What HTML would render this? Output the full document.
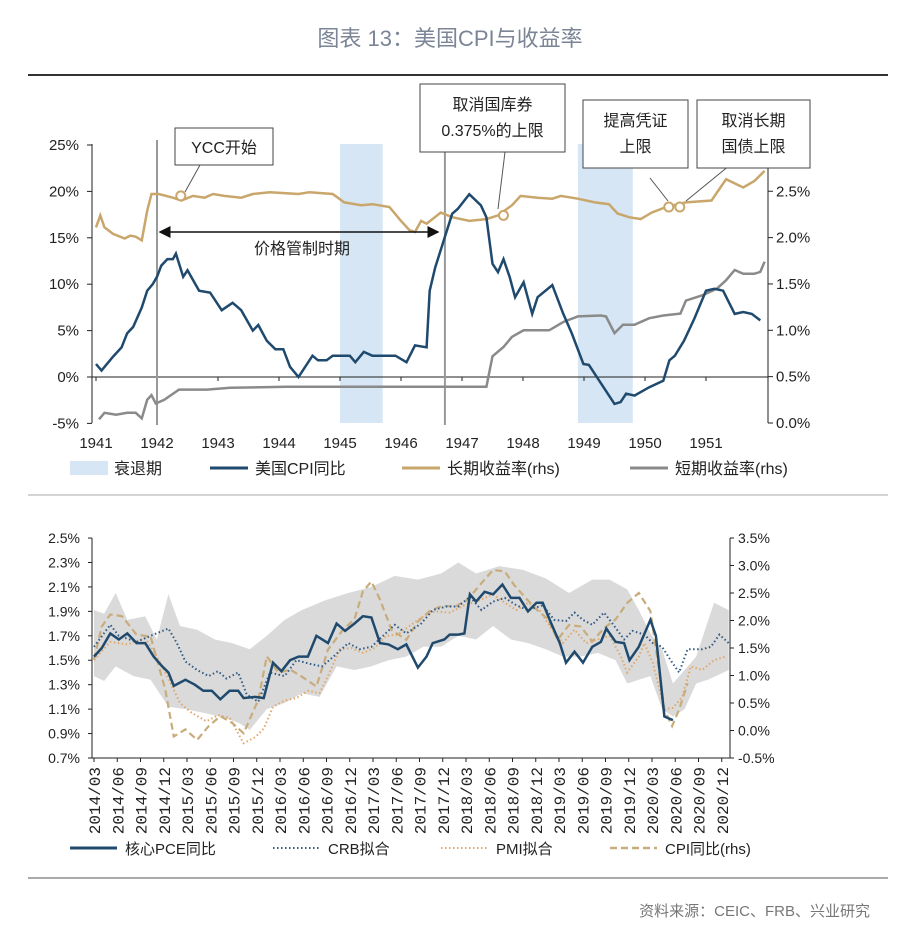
<!DOCTYPE html>
<html><head><meta charset="utf-8">
<style>
body{margin:0;background:#fff;}
svg{display:block;font-family:"Liberation Sans","Noto Sans CJK SC",sans-serif;}
</style></head>
<body>
<svg id="c" width="900" height="938" viewBox="0 0 900 938" xmlns="http://www.w3.org/2000/svg">
<defs><marker id="ah" markerWidth="8" markerHeight="8" refX="7" refY="4" orient="auto-start-reverse"><path d="M0,0 L8,4 L0,8 z" fill="#111"/></marker></defs>
<text x="450" y="46" text-anchor="middle" font-size="22" fill="#7b8595">图表 13：美国CPI与收益率</text>
<line x1="28" y1="75" x2="888" y2="75" stroke="#333" stroke-width="2"/>
<line x1="28" y1="495" x2="888" y2="495" stroke="#aaa" stroke-width="1"/>
<line x1="28" y1="878" x2="888" y2="878" stroke="#555" stroke-width="1"/>
<text x="870" y="916" text-anchor="end" font-size="15" fill="#777">资料来源：CEIC、FRB、兴业研究</text>
<g id="topChart"></g>
<g id="botChart"></g>
</svg>
<script>
// ---------- TOP CHART DATA ----------
const recessions = [[1945.0, 1945.7], [1948.9, 1949.8]];
const yearTicks = [1941,1942,1943,1944,1945,1946,1947,1948,1949,1950,1951];
const leftTicksTop = [25,20,15,10,5,0,-5];
const rightTicksTop = [3.0,2.5,2.0,1.5,1.0,0.5,0.0];
const cpiYears = [1941.00,1941.09,1941.28,1941.42,1941.51,1941.61,1941.75,1941.84,1941.93,1942.00,1942.07,1942.17,1942.26,1942.31,1942.43,1942.50,1942.69,1942.87,1943.06,1943.24,1943.38,1943.57,1943.66,1943.80,1943.94,1944.07,1944.18,1944.32,1944.55,1944.64,1944.78,1944.88,1945.16,1945.25,1945.39,1945.53,1945.91,1946.09,1946.23,1946.42,1946.47,1946.56,1946.70,1946.84,1946.93,1947.12,1947.31,1947.40,1947.50,1947.59,1947.68,1947.78,1947.87,1948.01,1948.15,1948.24,1948.48,1948.66,1948.80,1948.99,1949.08,1949.32,1949.50,1949.60,1949.69,1949.83,1950.07,1950.30,1950.40,1950.49,1950.64,1950.81,1951.00,1951.14,1951.28,1951.47,1951.61,1951.75,1951.89];
const cpiValues = [1.4,0.7,2.2,3.2,4.7,5.4,7.5,9.3,10,10.8,12,12.7,12.7,13.3,10.8,11.5,9.3,9.1,7.2,8,7.2,5,5.6,3.9,3,3,1.1,0,2.3,1.8,1.8,2.3,2.3,1.6,2.7,2.3,2.3,1.6,3.4,3.2,9.3,11.8,14.7,17.6,18.1,19.7,18.5,17.2,12.2,11.3,12.7,10.8,8.6,10.2,6.8,8.6,9.9,6.8,4.7,1.4,1.3,-1.1,-2.9,-2.7,-1.8,-2,-1.1,-0.4,1.8,2.3,3.9,6.3,9.3,9.5,9.3,6.8,7,6.8,6.1];
const longYears = [1941.00,1941.07,1941.14,1941.28,1941.47,1941.56,1941.65,1941.75,1941.84,1941.91,1942.03,1942.26,1942.40,1942.59,1942.78,1942.92,1943.10,1943.38,1943.57,1943.85,1944.32,1944.50,1944.88,1945.07,1945.35,1945.53,1945.81,1946.00,1946.14,1946.23,1946.33,1946.42,1946.65,1946.84,1947.12,1947.40,1947.59,1947.82,1947.96,1948.24,1948.48,1948.62,1948.90,1949.18,1949.41,1949.55,1949.74,1949.93,1950.11,1950.35,1950.67,1951.09,1951.33,1951.61,1951.79,1951.96];
const longValues = [2.11,2.24,2.11,2.04,1.99,2.02,2.01,1.97,2.29,2.47,2.47,2.43,2.40,2.45,2.43,2.47,2.45,2.43,2.47,2.49,2.47,2.49,2.47,2.38,2.35,2.36,2.33,2.18,2.08,2.06,2.18,2.15,2.27,2.22,2.18,2.20,2.24,2.35,2.45,2.43,2.42,2.45,2.42,2.38,2.36,2.26,2.22,2.20,2.27,2.33,2.38,2.40,2.63,2.54,2.61,2.72];
const shortYears = [1941.05,1941.14,1941.33,1941.51,1941.65,1941.75,1941.84,1941.91,1941.98,1942.12,1942.36,1942.82,1943.20,1944.13,1945.07,1947.40,1947.50,1947.68,1947.82,1948.01,1948.43,1948.66,1948.90,1949.27,1949.36,1949.50,1949.64,1949.83,1950.07,1950.30,1950.58,1950.67,1950.95,1951.18,1951.33,1951.47,1951.61,1951.79,1951.89,1951.96];
const shortValues = [0.04,0.11,0.09,0.11,0.11,0.05,0.25,0.30,0.21,0.25,0.36,0.36,0.38,0.39,0.39,0.39,0.72,0.82,0.93,1.00,1.00,1.09,1.15,1.16,1.15,0.97,1.06,1.06,1.13,1.16,1.18,1.32,1.38,1.45,1.54,1.65,1.61,1.61,1.63,1.74];

// ---------- BOTTOM CHART DATA ----------
const monthLabels = ["2014/03","2014/06","2014/09","2014/12","2015/03","2015/06","2015/09","2015/12","2016/03","2016/06","2016/09","2016/12","2017/03","2017/06","2017/09","2017/12","2018/03","2018/06","2018/09","2018/12","2019/03","2019/06","2019/09","2019/12","2020/03","2020/06","2020/09","2020/12"];
const leftTicksBot = [2.5,2.3,2.1,1.9,1.7,1.5,1.3,1.1,0.9,0.7];
const rightTicksBot = [3.5,3.0,2.5,2.0,1.5,1.0,0.5,0.0,-0.5];
const pceMonths = [0,1,2.1,3.2,4.3,5.5,6.6,7.7,8.8,9.6,10.3,11.8,13,14.1,15.2,16.3,17.5,18.6,19.3,20.8,21.9,23.1,24.2,25.3,26.4,27.6,28.7,30.2,31.3,32.4,33.6,34.7,35.8,36.9,38.0,39.2,40.3,41.8,42.9,43.7,45.2,45.9,47.0,47.8,48.5,49.3,50.4,51.5,52.7,53.8,54.9,56.0,57.1,57.9,59.0,60.1,60.9,62.0,63.1,64.3,65.4,66.1,67.3,68.4,69.1,70.3,71.8,72.5,73.6,74.7];
const pceValues = [1.53,1.60,1.72,1.67,1.72,1.64,1.64,1.53,1.45,1.40,1.29,1.34,1.30,1.25,1.25,1.18,1.25,1.25,1.19,1.20,1.19,1.48,1.41,1.50,1.53,1.53,1.70,1.64,1.80,1.74,1.80,1.86,1.85,1.64,1.63,1.59,1.63,1.44,1.53,1.64,1.67,1.71,1.71,1.72,2.04,1.98,2.06,2.04,2.12,2.01,2.01,1.90,1.97,1.97,1.80,1.64,1.48,1.57,1.48,1.61,1.65,1.76,1.65,1.64,1.50,1.61,1.83,1.70,1.04,1.01];
const crbMonths = [0,2.1,3.2,5.5,7.3,9.6,10.7,11.8,13.3,14.8,16.0,17.1,18.6,19.7,21.2,22.7,24.6,26.1,27.9,29.4,30.9,32.8,34.3,35.8,37.3,38.8,40.3,42.2,43.7,45.5,47.0,48.5,50.0,51.5,53.0,54.5,56.0,57.9,59.4,60.9,62.0,63.1,64.3,65.8,66.9,68.4,69.5,71.0,72.1,73.3,74.4,75.5,76.6,78.5,79.6,80.7,81.9];
const crbValues = [1.61,1.79,1.70,1.65,1.70,1.76,1.64,1.49,1.42,1.37,1.41,1.35,1.40,1.22,1.16,1.40,1.37,1.50,1.47,1.45,1.53,1.64,1.59,1.61,1.70,1.79,1.72,1.80,1.91,1.94,1.94,2.02,1.91,1.98,2.01,1.95,1.91,1.95,1.83,1.82,1.89,1.83,1.79,1.89,1.80,1.67,1.74,1.71,1.64,1.61,1.50,1.40,1.59,1.59,1.61,1.71,1.64];
const pmiMonths = [0,2.1,4.3,6.6,8.1,9.6,11.1,12.6,14.5,16.0,17.5,19.3,20.8,21.9,23.1,24.6,26.1,27.6,29.1,30.2,31.7,33.2,34.7,36.2,37.7,39.2,40.7,42.5,44.0,45.9,47.8,49.7,51.5,53.0,54.5,56.0,57.5,59.0,60.5,62.0,63.5,65.0,66.5,68.0,68.8,70.3,71.0,72.1,73.6,74.7,75.9,77.0,78.5,80.0,81.5];
const pmiValues = [1.50,1.65,1.63,1.68,1.53,1.35,1.15,1.07,1.00,1.05,1.03,0.82,0.87,0.94,1.12,1.17,1.19,1.25,1.23,1.37,1.59,1.60,1.56,1.60,1.70,1.71,1.78,1.86,1.90,1.89,1.95,1.99,2.04,1.97,1.91,1.97,1.91,1.76,1.64,1.75,1.64,1.67,1.70,1.53,1.40,1.53,1.64,1.48,1.10,1.11,1.20,1.45,1.42,1.50,1.53];
const cpiBotMonths = [0,1,2.1,3.6,5.5,7.3,9.2,10.3,11.8,13.3,14.8,16.3,17.8,19.3,21.2,22.3,23.8,25.3,26.8,28.7,30.2,32.1,33.6,34.7,35.8,36.9,38.4,40.3,41.8,43.3,44.8,46.7,48.2,50.0,51.5,53.0,54.2,55.7,57.1,58.6,59.8,61.3,62.8,64.3,65.8,67.3,68.8,70.3,71.8,72.9,73.6,74.6,75.5,76.6];
const cpiBotValues = [1.29,1.89,2.11,2.08,1.74,1.71,0.74,-0.11,0.02,-0.17,0.08,0.26,0.14,-0.05,0.56,1.35,1.05,1.11,0.98,0.80,1.47,1.83,2.02,2.53,2.71,2.38,1.83,1.65,1.98,2.17,2.26,2.26,2.38,2.68,2.92,2.89,2.65,2.41,2.20,2.02,1.65,1.92,1.89,1.62,1.86,2.02,2.32,2.50,2.17,1.11,0.38,0.08,0.38,0.86];
const bandUpMonths = [0,1.3,2.8,4.3,6.6,8.1,9.6,11.1,13.3,15.6,17.8,20.1,22.3,24.6,26.8,29.8,32.8,35.8,38.8,41.8,44.8,47.0,49.3,52.3,55.3,58.3,61.3,64.3,66.5,68.8,70.3,71.8,73.3,74.7,76.2,77.7,80.0,81.9];
const bandUpValues = [1.91,1.88,2.05,1.83,1.86,1.67,2.04,1.78,1.75,1.67,1.64,1.59,1.70,1.83,1.91,1.99,2.05,2.10,2.19,2.16,2.21,2.30,2.21,2.27,2.24,2.17,2.05,2.16,2.16,2.08,1.91,1.72,1.59,1.31,1.42,1.53,1.97,1.91];
const bandLoMonths = [0,1.3,2.8,5.1,7.3,9.6,11.8,14.1,16.3,18.6,20.1,22.3,24.6,26.8,29.1,31.3,33.6,35.8,38.0,40.3,42.5,44.8,47.0,49.3,51.5,53.8,56.0,58.3,60.5,62.8,65.0,67.3,68.8,70.3,71.8,73.3,74.7,76.2,77.7,79.2,81.9];
const bandLoValues = [1.37,1.33,1.45,1.37,1.34,1.12,1.10,1.07,1.04,0.99,0.93,1.10,1.15,1.23,1.20,1.45,1.42,1.45,1.50,1.53,1.61,1.61,1.70,1.67,1.78,1.67,1.64,1.59,1.53,1.53,1.56,1.50,1.31,1.34,1.37,1.10,1.04,1.10,1.31,1.34,1.42];

const NS = "http://www.w3.org/2000/svg";
function mk(parent, tag, attrs, text){
  const el = document.createElementNS(NS, tag);
  for (const k in attrs) el.setAttribute(k, attrs[k]);
  if (text !== undefined) el.textContent = text;
  parent.appendChild(el);
  return el;
}
function pathD(xs, ys, fx, fy){
  return xs.map((v,i)=>(i?'L':'M')+fx(v).toFixed(1)+','+fy(ys[i]).toFixed(1)).join(' ');
}

// ================= TOP =================
const topG = document.getElementById('topChart');
const tx = t => 96 + 61*(t-1941);
const tyL = v => 377 - v*9.28;
const tyR = v => 423 - v*92.7;
let el;

recessions.forEach(r=>{
  const b = mk(topG,'rect',{x:tx(r[0]),y:144,width:tx(r[1])-tx(r[0]),height:279,fill:'#d7e6f4'});
  
  
});
el = mk(topG,'line',{x1:92,y1:144,x2:92,y2:423,stroke:'#222','stroke-width':1});


el = mk(topG,'line',{x1:768,y1:144,x2:768,y2:423,stroke:'#222','stroke-width':1});


el = mk(topG,'line',{x1:92,y1:377,x2:768,y2:377,stroke:'#222','stroke-width':1});


leftTicksTop.forEach(v=>{
  mk(topG,'line',{x1:87,y1:tyL(v),x2:92,y2:tyL(v),stroke:'#222'});
  const t = mk(topG,'text',{x:79,y:tyL(v)+5,'text-anchor':'end','font-size':15,fill:'#222'},v+'%');
  
  
});
rightTicksTop.forEach(v=>{
  mk(topG,'line',{x1:768,y1:tyR(v),x2:773,y2:tyR(v),stroke:'#222'});
  const t = mk(topG,'text',{x:776,y:tyR(v)+5,'font-size':15,fill:'#222'},v.toFixed(1)+'%');
  
  
});
yearTicks.forEach(y=>{
  mk(topG,'line',{x1:tx(y),y1:377,x2:tx(y),y2:381,stroke:'#222'});
  const t = mk(topG,'text',{x:tx(y),y:448,'text-anchor':'middle','font-size':15,fill:'#222'},String(y));
  
  
});
[1942.0,1946.72].forEach(y=>{
  const l = mk(topG,'line',{x1:tx(y),y1:140,x2:tx(y),y2:425,stroke:'#999','stroke-width':2});
  
  
});
el = mk(topG,'path',{d:pathD(shortYears,shortValues,tx,tyR),fill:'none',stroke:'#8a8a8a','stroke-width':2.5});


el = mk(topG,'path',{d:pathD(longYears,longValues,tx,tyR),fill:'none',stroke:'#c9a66b','stroke-width':2.5});


el = mk(topG,'path',{d:pathD(cpiYears,cpiValues,tx,tyL),fill:'none',stroke:'#1f4a6e','stroke-width':2.5});


const notes = [
  {x:175,y:128,w:98,h:37,lines:['YCC开始'],lx1:200,ly1:165,lx2:185,ly2:192},
  {x:420,y:84,w:145,h:68,lines:['取消国库券','0.375%的上限'],lx1:505,ly1:152,lx2:498,ly2:209},
  {x:583,y:100,w:105,h:68,lines:['提高凭证','上限'],lx1:650,ly1:178,lx2:668,ly2:201},
  {x:697,y:100,w:113,h:68,lines:['取消长期','国债上限'],lx1:730,ly1:165,lx2:686,ly2:201}
];
notes.forEach(n=>{
  const l = mk(topG,'line',{x1:n.lx1,y1:n.ly1,x2:n.lx2,y2:n.ly2,stroke:'#555','stroke-width':1});
  
  
  const b = mk(topG,'rect',{x:n.x,y:n.y,width:n.w,height:n.h,fill:'#fff',stroke:'#444','stroke-width':1});
  
  
  n.lines.forEach((s,i)=>{
    const t = mk(topG,'text',{x:n.x+n.w/2,y:n.y+(n.lines.length==1?25:26+i*26),'text-anchor':'middle','font-size':16,fill:'#222'},s);
    
    
  });
});
[[1942.39,2.45],[1947.68,2.24],[1950.39,2.33],[1950.57,2.33]].forEach(p=>{
  const c = mk(topG,'circle',{cx:tx(p[0]),cy:tyR(p[1]),r:4.5,fill:'#fff',stroke:'#c9a66b','stroke-width':2});
  
  
});
el = mk(topG,'line',{x1:160,y1:232,x2:438,y2:232,stroke:'#111','stroke-width':1.5,'marker-start':'url(#ah)','marker-end':'url(#ah)'});


el = mk(topG,'text',{x:302,y:254,'text-anchor':'middle','font-size':16,fill:'#222'},'价格管制时期');


el = mk(topG,'rect',{x:70,y:461,width:38,height:14,fill:'#d7e6f4'});


el = mk(topG,'text',{x:114,y:474,'font-size':16,fill:'#222'},'衰退期');


[[210,'#1f4a6e','美国CPI同比','legend-cpi'],[402,'#c9a66b','长期收益率(rhs)','legend-long-yield'],[630,'#8a8a8a','短期收益率(rhs)','legend-short-yield']].forEach(l=>{
  mk(topG,'line',{x1:l[0],y1:468,x2:l[0]+38,y2:468,stroke:l[1],'stroke-width':3});
  const t = mk(topG,'text',{x:l[0]+45,y:474,'font-size':16,fill:'#222'},l[2]);
  
  
});

// ================= BOTTOM =================
const botG = document.getElementById('botChart');
const bx = m => 94 + 7.75*m;
const byL = v => 758 - (v-0.7)*122.2;
const byR = v => 758 - (v+0.5)*55;

const upPts = bandUpMonths.map((m,i)=>bx(m).toFixed(1)+','+byL(bandUpValues[i]).toFixed(1));
const loPts = bandLoMonths.map((m,i)=>bx(m).toFixed(1)+','+byL(bandLoValues[i]).toFixed(1)).reverse();
el = mk(botG,'polygon',{points:upPts.concat(loPts).join(' '),fill:'#dadada'});



el = mk(botG,'line',{x1:92,y1:538,x2:92,y2:758,stroke:'#222'});


el = mk(botG,'line',{x1:730,y1:538,x2:730,y2:758,stroke:'#222'});


el = mk(botG,'line',{x1:92,y1:758,x2:730,y2:758,stroke:'#222'});


leftTicksBot.forEach(v=>{
  mk(botG,'line',{x1:88,y1:byL(v),x2:92,y2:byL(v),stroke:'#222'});
  const t = mk(botG,'text',{x:80,y:byL(v)+5,'text-anchor':'end','font-size':14,fill:'#222'},v.toFixed(1)+'%');
  
  
});
rightTicksBot.forEach(v=>{
  mk(botG,'line',{x1:730,y1:byR(v),x2:734,y2:byR(v),stroke:'#222'});
  const t = mk(botG,'text',{x:738,y:byR(v)+5,'font-size':14,fill:'#222'},v.toFixed(1)+'%');
  
  
});
monthLabels.forEach((s,i)=>{
  const x = bx(i*3);
  mk(botG,'line',{x1:x,y1:758,x2:x,y2:762,stroke:'#222'});
  const t = mk(botG,'text',{x:0,y:0,transform:`translate(${x+6},767) rotate(-90)`,'text-anchor':'end','font-size':16,fill:'#222','font-family':'Liberation Mono, monospace'},s);
  
  
});
el = mk(botG,'path',{d:pathD(pmiMonths,pmiValues,bx,byL),fill:'none',stroke:'#e0a86a','stroke-width':2,'stroke-dasharray':'1.5,2.5'});


el = mk(botG,'path',{d:pathD(cpiBotMonths,cpiBotValues,bx,byR),fill:'none',stroke:'#c9ac7c','stroke-width':2.2,'stroke-dasharray':'7,4'});


el = mk(botG,'path',{d:pathD(crbMonths,crbValues,bx,byL),fill:'none',stroke:'#2f5a86','stroke-width':2,'stroke-dasharray':'1.5,2.5'});


el = mk(botG,'path',{d:pathD(pceMonths,pceValues,bx,byL),fill:'none',stroke:'#1f4a6e','stroke-width':2.5});


[[70,'#1f4a6e','','核心PCE同比','legend-core-pce',3],[273,'#2f5a86','1.5,2.5','CRB拟合','legend-crb',2],[441,'#e0a86a','1.5,2.5','PMI拟合','legend-pmi',2],[610,'#c9ac7c','7,4','CPI同比(rhs)','legend-cpi-rhs',2.5]].forEach(l=>{
  const a = {x1:l[0],y1:848,x2:l[0]+47,y2:848,stroke:l[1],'stroke-width':l[5]};
  if (l[2]) a['stroke-dasharray']=l[2];
  mk(botG,'line',a);
  const t = mk(botG,'text',{x:l[0]+55,y:854,'font-size':15,fill:'#222'},l[3]);
  
  
});
</script>
</body></html>
